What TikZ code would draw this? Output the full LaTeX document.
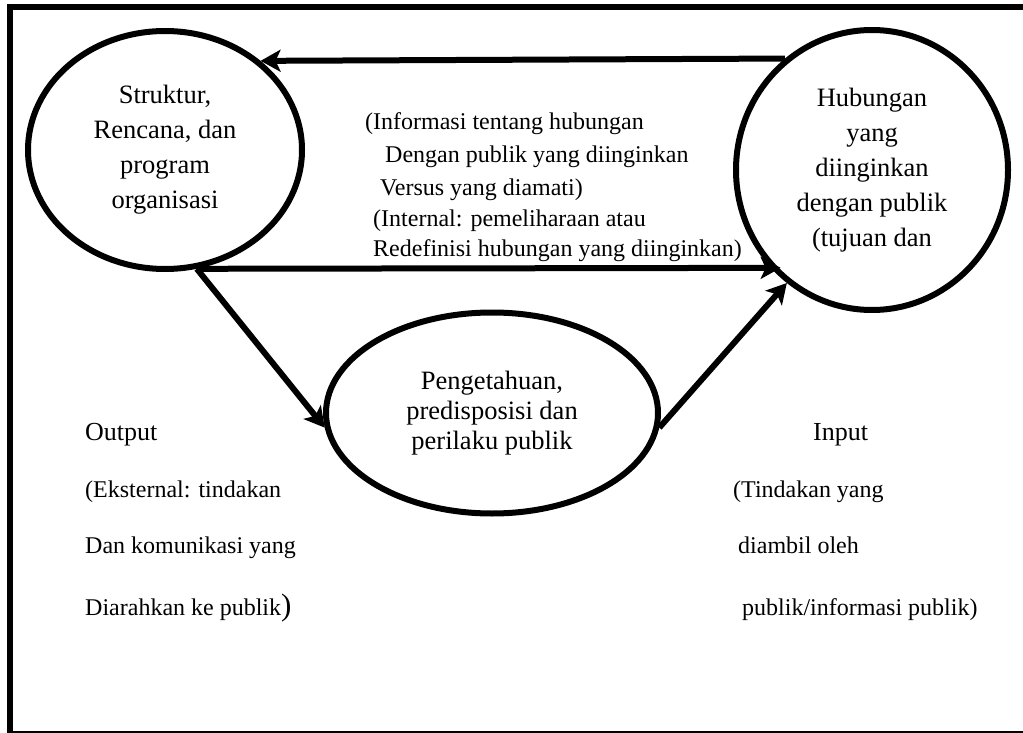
\documentclass[tikz,border=0pt]{standalone}
\usepackage{fontspec}
\setmainfont{Liberation Serif}
\usetikzlibrary{shapes.geometric,arrows.meta}
\begin{document}
\begin{tikzpicture}[x=1pt,y=-1pt,
  bub/.style={ellipse,draw,line width=6pt,inner sep=0pt,align=center,font=\fontsize{26.5}{35}\selectfont},
  arr/.style={line width=6pt,-{Stealth[length=20pt,width=22pt,inset=5pt]}},
  lbl/.style={anchor=base west,inner sep=0pt,font=\fontsize{24}{28}\selectfont},
  biglbl/.style={anchor=base west,inner sep=0pt,font=\fontsize{26}{30}\selectfont},
]
\useasboundingbox (0,0) rectangle (1023,733);
\fill[white] (0,0) rectangle (1023,733);
\draw[line width=6pt] (7,7) -- (1023,7);
\draw[line width=6pt] (10,4) -- (10,733);
\draw[line width=2pt] (10,732) -- (1023,732);

\node[bub,minimum width=274pt,minimum height=238pt] (struk) at (165,150) {Struktur,\\Rencana, dan\\program\\organisasi};
\node[bub,minimum width=272pt,minimum height=280pt] (hub) at (872,170) {Hubungan\\yang\\diinginkan\\dengan publik\\(tujuan dan};
\node[bub,minimum width=332pt,minimum height=201pt,font=\fontsize{26.5}{30}\selectfont] (pen) at (492,413) {Pengetahuan,\\predisposisi dan\\perilaku publik};

\draw[arr] (hub.128) -- (struk.43);
\draw[arr,shorten >=-10pt] (struk.-75) -- (hub.224.5);
\draw[arr] (struk.-75) -- (pen.185);
\draw[arr] (pen.-5) -- (hub.233);

\node[lbl] (m1) at (365,130) {(Informasi tentang hubungan};
\node[lbl] (m2) at (385,163) {Dengan publik yang diinginkan};
\node[lbl] (m3) at (380,195) {Versus yang diamati)};
\node[lbl] (m4) at (373,226) {(Internal: pemeliharaan atau};
\node[lbl] (m5) at (373,256) {Redefinisi hubungan yang diinginkan)};

\node[biglbl] (out) at (85,440) {Output};
\node[lbl] (o1) at (85,497) {(Eksternal: tindakan};
\node[lbl] (o2) at (85,553) {Dan komunikasi yang};
\node[lbl] (o3) at (85,615) {Diarahkan ke publik{\fontsize{31}{31}\selectfont)}};

\node[biglbl] (inp) at (813,440) {Input};
\node[lbl] (i1) at (733,497) {(Tindakan yang};
\node[lbl] (i2) at (738,553) {diambil oleh};
\node[lbl] (i3) at (742,615) {publik/informasi publik)};
\end{tikzpicture}
\end{document}
